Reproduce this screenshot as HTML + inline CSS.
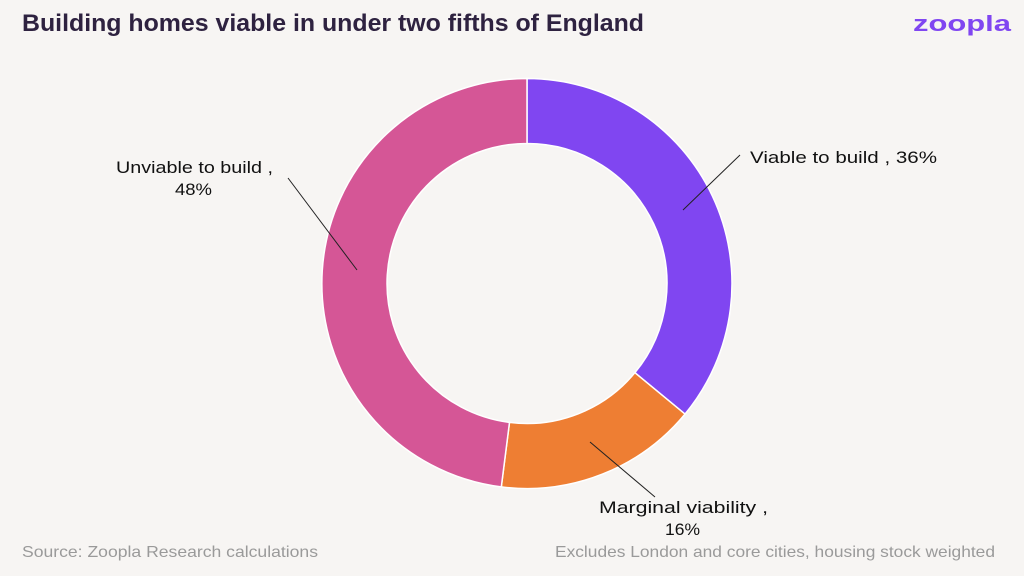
<!DOCTYPE html>
<html><head><meta charset="utf-8"><style>
html,body{margin:0;padding:0;background:#F7F5F3;}
svg{display:block}
</style></head><body>
<svg width="1024" height="576" viewBox="0 0 1024 576" xmlns="http://www.w3.org/2000/svg" font-family="Liberation Sans, sans-serif">
<rect width="1024" height="576" fill="#F7F5F3"/>
<text x="22" y="31" font-size="24" font-weight="bold" fill="#2E2240" textLength="622" lengthAdjust="spacingAndGlyphs">Building homes viable in under two fifths of England</text>
<text x="913" y="31" font-size="22" font-weight="bold" fill="#8046F1" textLength="98" lengthAdjust="spacingAndGlyphs">zoopla</text>
<g transform="translate(527,283.5)" stroke="#fff" stroke-width="1.5">
<path d="M0,-205 A205,205 0 0 1 158.0,130.6 L107.9,89.2 A140,140 0 0 0 0,-140 Z" fill="#8046F1"/>
<path d="M158.0,130.6 A205,205 0 0 1 -25.7,203.4 L-17.5,138.9 A140,140 0 0 0 107.9,89.2 Z" fill="#EE7E33"/>
<path d="M-25.7,203.4 A205,205 0 0 1 0,-205 L0,-140 A140,140 0 0 0 -17.5,138.9 Z" fill="#D55696"/>
</g>
<g stroke="#222" stroke-width="1" fill="none">
<line x1="740" y1="155" x2="683" y2="210"/>
<line x1="288" y1="178" x2="357" y2="270"/>
<line x1="590" y1="442" x2="655" y2="497"/>
</g>
<g font-size="17" fill="#111">
<text x="750" y="163" textLength="187" lengthAdjust="spacingAndGlyphs">Viable to build , 36%</text>
<text x="116" y="173" textLength="157" lengthAdjust="spacingAndGlyphs">Unviable to build ,</text>
<text x="175" y="195" textLength="37" lengthAdjust="spacingAndGlyphs">48%</text>
<text x="599" y="513" textLength="169" lengthAdjust="spacingAndGlyphs">Marginal viability ,</text>
<text x="665" y="535" textLength="35" lengthAdjust="spacingAndGlyphs">16%</text>
</g>
<g font-size="16" fill="#9A9A9A">
<text x="22" y="557" textLength="296" lengthAdjust="spacingAndGlyphs">Source: Zoopla Research calculations</text>
<text x="555" y="557" textLength="440" lengthAdjust="spacingAndGlyphs">Excludes London and core cities, housing stock weighted</text>
</g>
</svg>
</body></html>
